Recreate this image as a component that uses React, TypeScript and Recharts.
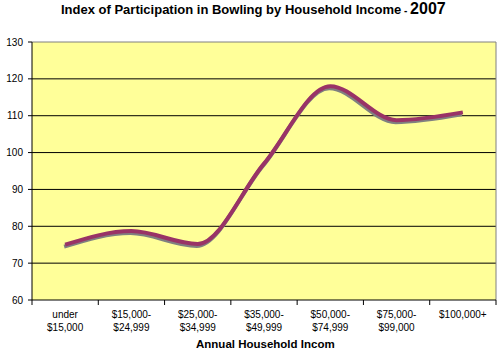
import React from "react";
import { LineChart, Line, XAxis, YAxis, CartesianGrid, ReferenceLine } from "recharts";

const categories = [
  "under\n$15,000",
  "$15,000-\n$24,999",
  "$25,000-\n$34,999",
  "$35,000-\n$49,999",
  "$50,000-\n$74,999",
  "$75,000-\n$99,000",
  "$100,000+",
];
const indexValues = [75, 78.7, 75.2, 97, 118, 108.8, 110.9];
const yTicks = [60, 70, 80, 90, 100, 110, 120, 130];
const gridValues = [70, 80, 90, 100, 110, 120];
const titleText = "Index of Participation in Bowling by Household Income";
const titleYear = "2007";
const xAxisTitle = "Annual Household Income";

const data = categories.map((c, i) => ({ pos: i + 0.5, name: c, value: indexValues[i] }));
const xTicks: number[] = [];
for (let i = 0; i <= categories.length; i++) {
  xTicks.push(i);
  if (i < categories.length) xTicks.push(i + 0.5);
}

const FONT = "'Liberation Sans', Arial, sans-serif";

const XTick = (props: any) => {
  const { x, y, payload } = props;
  const v = payload.value;
  if (Number.isInteger(v)) {
    return <line x1={x} y1={y} x2={x} y2={y + 5} stroke="#000" strokeWidth={1} />;
  }
  const lines = categories[Math.floor(v)].split("\n");
  return (
    <text x={x} y={y} textAnchor="middle" fontSize={10} fill="#000" fontFamily={FONT}>
      {lines.map((l, i) => (
        <tspan key={i} x={x} dy={i === 0 ? 18 : 13}>
          {l}
        </tspan>
      ))}
    </text>
  );
};

export default function App() {
  return (
    <div style={{ position: "relative", width: 501, height: 352, background: "#fff" }}>
      <style>{`body{margin:0}`}</style>
      <LineChart
        width={501}
        height={352}
        data={data}
        margin={{ top: 42, right: 5, left: 0, bottom: 0 }}
      >
        <CartesianGrid
          vertical={false}
          horizontalValues={gridValues}
          stroke="#000"
          strokeOpacity={1}
          fill="#FFFF99"
          fillOpacity={1}
        />
        <XAxis
          dataKey="pos"
          type="number"
          domain={[0, 7]}
          ticks={xTicks}
          interval={0}
          height={52}
          tickSize={0}
          tickMargin={0}
          tickLine={false}
          axisLine={{ stroke: "#000" }}
          tick={<XTick />}
        />
        <YAxis
          domain={[60, 130]}
          ticks={yTicks}
          interval={0}
          width={32}
          tickSize={4}
          tickMargin={5}
          axisLine={{ stroke: "#000" }}
          tickLine={{ stroke: "#000" }}
          tick={{ fontSize: 10, fill: "#000", fontFamily: FONT }}
        />
        <ReferenceLine y={130} stroke="#808080" strokeWidth={1} />
        <ReferenceLine x={7} stroke="#808080" strokeWidth={1} />
        <Line
          dataKey="value"
          type="monotone"
          stroke="#993366"
          strokeWidth={4}
          dot={false}
          activeDot={false}
          isAnimationActive={false}
          style={{ filter: "drop-shadow(-1px 2px 0 #808080)" }}
        />
      </LineChart>
      <svg
        width={501}
        height={352}
        style={{ position: "absolute", left: 0, top: 0, pointerEvents: "none" }}
      >
        <defs>
          <clipPath id="axisTitleClip">
            <rect x={0} y={330} width={335} height={22} />
          </clipPath>
        </defs>
        <text x={61} y={14} fontFamily={FONT} fontWeight="bold" fontSize={13} fill="#000">
          {titleText}
          <tspan fontSize={10}> - </tspan>
          <tspan fontSize={16}>{titleYear}</tspan>
        </text>
        <text
          x={196}
          y={348}
          fontFamily={FONT}
          fontWeight="bold"
          fontSize={11.5}
          fill="#000"
          clipPath="url(#axisTitleClip)"
        >
          {xAxisTitle}
        </text>
      </svg>
    </div>
  );
}
